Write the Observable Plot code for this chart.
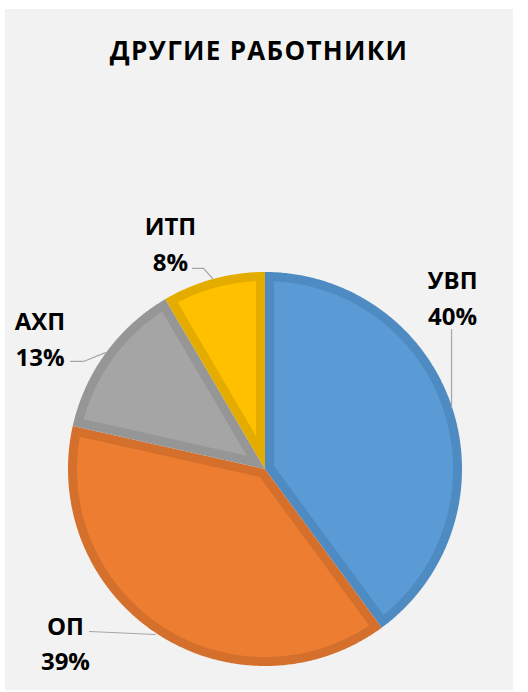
<!DOCTYPE html>
<html>
<head>
<meta charset="utf-8">
<script src="https://cdn.jsdelivr.net/npm/d3@7"></script>
<script src="https://cdn.jsdelivr.net/npm/@observablehq/plot@0.6"></script>
<style>
  html, body { margin: 0; padding: 0; background: #ffffff; }
  #panel { position: absolute; left: 5px; top: 9px; width: 508px; height: 681px; background: #f2f2f2; }
  #title { height: 80px; line-height: 82px; text-align: center; font-family: "Open Sans", sans-serif; font-weight: bold; font-size: 26px; letter-spacing: 1.3px; color: #000; }
</style>
</head>
<body>
<div id="panel"><div id="title">ДРУГИЕ РАБОТНИКИ</div><div id="chart"></div></div>
<script>
// ---- data ----
const categories = ["УВП", "ОП", "АХП", "ИТП"];
const shares = [39.9, 38.6, 13.05, 8.45];
const fillColors = ["#5b9bd5", "#ed7d31", "#a5a5a5", "#ffc000"];
const borderColors = ["#4e8bc2", "#d4702c", "#969696", "#e5ac00"];

// ---- layout (radius units, y up, origin = pie centre) ----
const R = 197;          // pie radius, px
const borderPx = 9;     // inner border width, px
const W = 508, H = 601; // svg size
const CX = 259.5, CY = 379.5; // pie centre in svg px
const labelAt = [[0.952, 0.881], [-1.013, -0.873], [-1.142, 0.675], [-0.480, 1.157]];
const leaders = [
  [[0.947, 0.708], [0.947, 0.312]],
  [[-0.891, -0.825], [-0.556, -0.840]],
  [[-0.987, 0.546], [-0.921, 0.546], [-0.810, 0.591]],
  [[-0.368, 1.018], [-0.312, 1.018], [-0.266, 0.967]]
];

const total = d3.sum(shares);
let acc = 0;
const slices = shares.map((v, i) => {
  const a0 = acc / total * 2 * Math.PI; acc += v;
  const a1 = acc / total * 2 * Math.PI;
  return {i, a0, a1};
});
const pol = (a, r) => ({x: r * Math.sin(a), y: r * Math.cos(a)});
function arcPts(a0, a1, r) {
  const n = Math.max(2, Math.ceil((a1 - a0) / (Math.PI / 360)));
  const out = [];
  for (let k = 0; k <= n; k++) out.push(pol(a0 + (a1 - a0) * k / n, r));
  return out;
}
function outer(s) { return [{x: 0, y: 0}, ...arcPts(s.a0, s.a1, 1)]; }
function inner(s) {
  const w = borderPx / R, th = s.a1 - s.a0, mid = (s.a0 + s.a1) / 2;
  const apex = pol(mid, w / Math.sin(th / 2));
  const d = Math.asin(w / (1 - w));
  return [apex, ...arcPts(s.a0 + d, s.a1 - d, 1 - w)];
}

const marks = [];
slices.forEach(s => {
  marks.push(Plot.line(outer(s), {x: "x", y: "y", fill: borderColors[s.i], stroke: "none", curve: "linear"}));
  marks.push(Plot.line(inner(s), {x: "x", y: "y", fill: fillColors[s.i], stroke: "none", curve: "linear"}));
});
const leaderRows = leaders.flatMap((pts, i) => pts.map(p => ({id: i, x: p[0], y: p[1]})));
marks.push(Plot.line(leaderRows, {x: "x", y: "y", z: "id", stroke: "#a6a6a6", strokeWidth: 1.2}));
const labelRows = categories.map((c, i) => ({
  x: labelAt[i][0], y: labelAt[i][1],
  t: c + "\n" + Math.round(shares[i] / total * 100) + "%"
}));
marks.push(Plot.text(labelRows, {x: "x", y: "y", text: "t", fontSize: 24, fontWeight: "bold", fontFamily: "Open Sans", lineHeight: 1.5, fill: "#000"}));

const chart = Plot.plot({
  width: W, height: H, margin: 0,
  x: {domain: [-CX / R, (W - CX) / R], range: [0, W], axis: null},
  y: {domain: [-(H - CY) / R, CY / R], range: [H, 0], axis: null},
  style: {background: "transparent", overflow: "visible"},
  marks
});
document.getElementById("chart").appendChild(chart);
</script>
</body>
</html>
